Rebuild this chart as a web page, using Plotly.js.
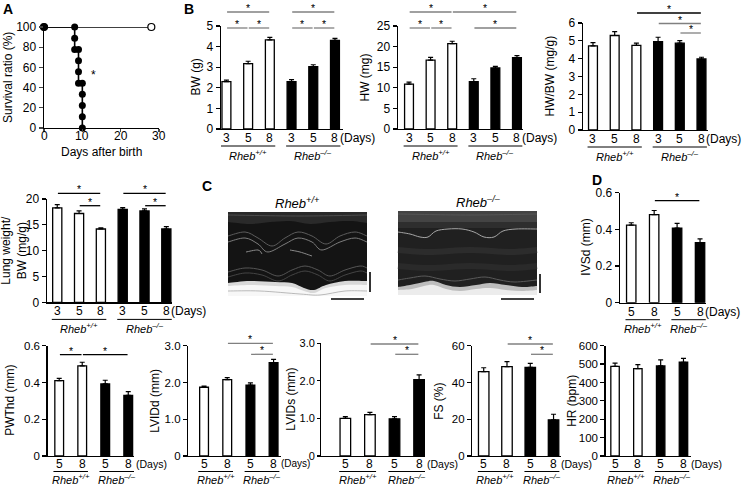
<!DOCTYPE html>
<html><head><meta charset="utf-8">
<script src="https://cdn.plot.ly/plotly-3.0.1.min.js"></script>
<style>html,body{margin:0;padding:0;background:#fff}#chart{width:745px;height:485px}</style>
</head><body><div id="chart"></div>
<script>
// ================= DATA =================
// Panel A: survival
const survDaysKO  = [0, 8, 8, 8, 9, 9, 9, 9, 10, 10, 10, 10, 10];
const survRatioKO = [100, 100, 88.9, 77.8, 77.8, 66.7, 55.6, 44.4, 44.4, 33.3, 22.2, 11.1, 0];
const survDaysWT  = [0, 28];
const survRatioWT = [100, 100];
const survXTicks  = [0, 10, 20, 30];

// Panel B / lung: day labels
const daysTop = ['3', '5', '8'];
const bwWT = [2.3, 3.17, 4.33],  bwWTerr = [0.07, 0.12, 0.12];
const bwKO = [2.3, 3.03, 4.3],   bwKOerr = [0.1, 0.09, 0.1];
const hwWT = [10.9, 16.7, 20.7], hwWTerr = [0.5, 0.7, 0.6];
const hwKO = [11.5, 14.8, 17.3], hwKOerr = [0.7, 0.4, 0.5];
const hwbwWT = [4.72, 5.3, 4.75], hwbwWTerr = [0.18, 0.22, 0.12];
const hwbwKO = [4.96, 4.87, 3.98], hwbwKOerr = [0.24, 0.14, 0.1];
const lungWT = [18.3, 17.2, 14.2], lungWTerr = [0.6, 0.5, 0.2];
const lungKO = [18.0, 17.7, 14.2], lungKOerr = [0.35, 0.4, 0.45];

// Panel C / D: echo days
const daysEcho = ['5', '8'];
const ivsdWT = [0.423, 0.48],  ivsdWTerr = [0.013, 0.023];
const ivsdKO = [0.407, 0.328], ivsdKOerr = [0.026, 0.02];
const pwthdWT = [0.41, 0.49],  pwthdWTerr = [0.012, 0.02];
const pwthdKO = [0.392, 0.33], pwthdKOerr = [0.02, 0.02];
const lviddWT = [1.87, 2.08],  lviddWTerr = [0.03, 0.05];
const lviddKO = [1.93, 2.54],  lviddKOerr = [0.06, 0.09];
const lvidsWT = [1.0, 1.1],    lvidsWTerr = [0.05, 0.06];
const lvidsKO = [0.99, 2.03],  lvidsKOerr = [0.06, 0.13];
const fsWT = [45.9, 48.6],     fsWTerr = [2.1, 2.7];
const fsKO = [48.2, 19.7],     fsKOerr = [2.2, 3.0];
const hrWT = [487, 475],       hrWTerr = [18, 22];
const hrKO = [490, 510],       hrKOerr = [33, 21];

// significance brackets: [fromBar, toBar, tier]
const bwSig    = [[0,1,0],[1,2,0],[0,2,1],[3,4,0],[4,5,0],[3,5,1]];
const hwSig    = [[0,1,0],[1,2,0],[3,5,0],[0,2,1],[2,5,1]];
const hwbwSig  = [[4,5,0],[3,5,1],[2,5,2]];
const lungSig  = [[1,2,0],[0,2,1],[4,5,0],[3,5,1]];
const ivsdSig  = [[1,3,0]];
const pwthdSig = [[0,1,0],[1,3,0]];
const lviddSig = [[2,3,0],[1,3,1]];
const lvidsSig = [[2,3,0],[1,3,1]];
const fsSig    = [[2,3,0],[1,3,1]];
const hrSig    = [];

const genoWT = '<i>Rheb<sup>+/+</sup></i>';
const genoKO = '<i>Rheb<sup>\u2013/\u2013</sup></i>';

// ================= LAYOUT =================
const W = 745, H = 485;
const fx = p => p / W;
const fy = p => 1 - p / H;
const FONT = '"Liberation Sans", Arial, sans-serif';
const GRAY = '#808080', BLK = '#000000';

const data = [];
const shapes = [];
const annotations = [];
const layout = {
  width: W, height: H, margin: {l: 0, r: 0, t: 0, b: 0},
  showlegend: false, paper_bgcolor: 'white', plot_bgcolor: 'rgba(0,0,0,0)',
  font: {family: FONT, size: 12, color: 'black'}, barmode: 'overlay',
  hovermode: false
};
function axisBase() {
  return {showline: true, linecolor: 'black', linewidth: 1.4, showgrid: false,
          zeroline: false, fixedrange: true, tickfont: {size: 12, color: 'black', family: FONT}};
}
function txt(x, y, text, opt) {
  annotations.push(Object.assign({xref: 'paper', yref: 'paper', x: fx(x), y: fy(y), text: text,
    showarrow: false, xanchor: 'center', yanchor: 'middle', font: {size: 12, family: FONT}}, opt || {}));
}
function line(x0, y0, x1, y1, w, c) {
  shapes.push({type: 'line', xref: 'paper', yref: 'paper', x0: fx(x0), y0: fy(y0), x1: fx(x1), y1: fy(y1),
    line: {color: c || 'black', width: w || 1.5}});
}

// ---- Panel A ----
layout.xaxis = Object.assign(axisBase(), {domain: [fx(44), fx(159)], range: [0, 30], anchor: 'y',
  ticks: 'outside', ticklen: 3, tickwidth: 1.2, tickvals: survXTicks, showticklabels: false});
layout.yaxis = Object.assign(axisBase(), {domain: [fy(128), fy(27)], range: [0, 100], anchor: 'x',
  ticks: 'outside', ticklen: 4, tickwidth: 1.2, dtick: 20, tick0: 0});
data.push({type: 'scatter', mode: 'lines+markers', x: survDaysWT, y: survRatioWT, xaxis: 'x', yaxis: 'y',
  line: {color: 'black', width: 1.3}, cliponaxis: false,
  marker: {size: 7, color: ['black', 'white'], line: {color: 'black', width: 1.2}}});
data.push({type: 'scatter', mode: 'lines+markers', x: survDaysKO, y: survRatioKO, xaxis: 'x', yaxis: 'y',
  line: {color: 'black', width: 1.6}, cliponaxis: false,
  marker: {size: 7, color: 'black'}});
survXTicks.forEach(v => annotations.push({xref: 'x', yref: 'paper', x: v, y: fy(136), text: String(v),
  showarrow: false, yanchor: 'middle', font: {size: 12, family: FONT}}));
annotations.push({xref: 'x', yref: 'y', x: 13, y: 52, text: '*', showarrow: false, font: {size: 12, color: 'black'}});
txt(7.5, 77.5, 'Survival ratio (%)', {textangle: -90});
txt(101.5, 152, 'Days after birth');

// ---- Bar panels ----
const panels = [
  {n: 2, wt: bwWT, wtErr: bwWTerr, ko: bwKO, koErr: bwKOerr, days: daysTop, sig: bwSig,
   xpx: [221, 343], ypx: [26, 129], xr: [-0.25, 5.37], yr: [0, 5], dtick: 1, bw: 0.41,
   title: 'BW (g)', tx: 195, tiers: [28, 12], sigCol: [GRAY, GRAY], row: 'top'},
  {n: 3, wt: hwWT, wtErr: hwWTerr, ko: hwKO, koErr: hwKOerr, days: daysTop, sig: hwSig,
   xpx: [398, 523], ypx: [26, 129], xr: [-0.51, 5.28], yr: [0, 25], dtick: 5, bw: 0.41,
   title: 'HW (mg)', tx: 364, tiers: [28, 12], sigCol: [GRAY, GRAY], row: 'top'},
  {n: 4, wt: hwbwWT, wtErr: hwbwWTerr, ko: hwbwKO, koErr: hwbwKOerr, days: daysTop, sig: hwbwSig,
   xpx: [583, 708], ypx: [23, 130], xr: [-0.46, 5.3], yr: [0, 6], dtick: 1, bw: 0.41,
   title: 'HW/BW (mg/g)', tx: 549, tiers: [33, 23.5, 13], sigCol: [GRAY, GRAY, BLK], row: 'top'},
  {n: 5, wt: lungWT, wtErr: lungWTerr, ko: lungKO, koErr: lungKOerr, days: daysTop, sig: lungSig,
   xpx: [47, 172], ypx: [199, 302.4], xr: [-0.47, 5.26], yr: [0, 20], dtick: 5, bw: 0.42,
   title: 'Lung weight/<br>BW (mg/g)', tx: 14, tiers: [205.7, 193.3], sigCol: [BLK, BLK], row: 'mid'},
  {n: 6, wt: ivsdWT, wtErr: ivsdWTerr, ko: ivsdKO, koErr: ivsdKOerr, days: daysEcho, sig: ivsdSig,
   xpx: [620, 706], ypx: [192.7, 302.7], xr: [-0.49, 3.26], yr: [0, 0.6], dtick: 0.2, bw: 0.41,
   title: 'IVSd (mm)', tx: 586, tiers: [200.7], sigCol: [BLK], row: 'mid'},
  {n: 7, wt: pwthdWT, wtErr: pwthdWTerr, ko: pwthdKO, koErr: pwthdKOerr, days: daysEcho, sig: pwthdSig,
   xpx: [47.7, 134], ypx: [345.7, 456], xr: [-0.5, 3.25], yr: [0, 0.6], dtick: 0.2, bw: 0.38,
   title: 'PWThd (mm)', tx: 10, tiers: [354.7], sigCol: [BLK], row: 'bot'},
  {n: 8, wt: lviddWT, wtErr: lviddWTerr, ko: lviddKO, koErr: lviddKOerr, days: daysEcho, sig: lviddSig,
   xpx: [188.3, 281], ypx: [345.7, 456], xr: [-0.68, 3.32], yr: [0, 3], dtick: 1, fmt1: true, bw: 0.38,
   title: 'LVIDd (mm)', tx: 155, tiers: [354.3, 343.3], sigCol: [GRAY, GRAY], row: 'bot', dsize: 10},
  {n: 9, wt: lvidsWT, wtErr: lvidsWTerr, ko: lvidsKO, koErr: lvidsKOerr, days: daysEcho, sig: lvidsSig,
   xpx: [321, 425], ypx: [343.3, 456], xr: [-0.99, 3.24], yr: [0, 3], dtick: 1, fmt1: true, bw: 0.43,
   title: 'LVIDs (mm)', tx: 291, tiers: [354.3, 344], sigCol: [GRAY, GRAY], row: 'bot', ticklen: 2.5, tsize: 11},
  {n: 10, wt: fsWT, wtErr: fsWTerr, ko: fsKO, koErr: fsKOerr, days: daysEcho, sig: fsSig,
   xpx: [472.3, 561], ypx: [345.7, 456], xr: [-0.49, 3.32], yr: [0, 60], dtick: 20, bw: 0.45,
   title: 'FS (%)', tx: 439, tiers: [354.3, 344], sigCol: [GRAY, GRAY], row: 'bot'},
  {n: 11, wt: hrWT, wtErr: hrWTerr, ko: hrKO, koErr: hrKOerr, days: daysEcho, sig: hrSig,
   xpx: [605.7, 691], ypx: [345.7, 456], xr: [-0.41, 3.33], yr: [0, 600], dtick: 100, bw: 0.37,
   title: 'HR (bpm)', tx: 572, tiers: [], sigCol: [], row: 'bot'}
];
const rowOff = {top: {tick: 9, ul: 17, geno: 26, dshift: 3, dsize: 12, tsize: 12},
                mid: {tick: 9, ul: 17, geno: 25.5, dshift: 3, dsize: 12, tsize: 12},
                bot: {tick: 7.5, ul: 15.5, geno: 22.5, dshift: 5.5, dsize: 10.5, tsize: 11.5}};

panels.forEach(p => {
  const xa = 'x' + p.n, ya = 'y' + p.n;
  const o = rowOff[p.row];
  const nW = p.wt.length;
  const xW = p.wt.map((_, i) => i), xK = p.ko.map((_, i) => i + nW);
  const allX = xW.concat(xK);
  const labels = p.days.concat(p.days);
  const yTicks = [];
  for (let v = p.yr[0]; v <= p.yr[1] + 1e-9; v += p.dtick) yTicks.push(+v.toFixed(6));
  layout['xaxis' + p.n] = Object.assign(axisBase(), {
    domain: [fx(p.xpx[0]), fx(p.xpx[1])], range: p.xr, anchor: ya, ticks: '', showticklabels: false});
  layout['yaxis' + p.n] = Object.assign(axisBase(), {
    domain: [fy(p.ypx[1]), fy(p.ypx[0])], range: p.yr, anchor: xa,
    ticks: 'outside', ticklen: p.ticklen || 4, tickwidth: 1.2, tickcolor: 'black',
    tickfont: {size: p.tsize || o.tsize, color: 'black', family: FONT},
    tickvals: yTicks, ticktext: yTicks.map(v => p.fmt1 ? (v === 0 ? '0' : v.toFixed(1)) : String(v))});
  data.push({type: 'bar', x: xW, y: p.wt, xaxis: xa, yaxis: ya, width: p.bw,
    marker: {color: 'white', line: {color: 'black', width: 1.3}},
    error_y: {type: 'data', symmetric: false, array: p.wtErr, arrayminus: p.wtErr.map(() => 0),
              color: 'black', thickness: 1.2, width: 2.5}});
  data.push({type: 'bar', x: xK, y: p.ko, xaxis: xa, yaxis: ya, width: p.bw,
    marker: {color: 'black', line: {color: 'black', width: 1.3}},
    error_y: {type: 'data', symmetric: false, array: p.koErr, arrayminus: p.koErr.map(() => 0),
              color: 'black', thickness: 1.2, width: 2.5}});
  // significance
  p.sig.forEach(([i, j, t]) => {
    const yp = p.tiers[t];
    shapes.push({type: 'line', xref: xa, yref: 'paper', x0: i + 0.03, x1: j - 0.03, y0: fy(yp), y1: fy(yp),
      line: {color: p.sigCol[t], width: 1.3}});
    annotations.push({xref: xa, yref: 'paper', x: (i + j) / 2, y: fy(yp), yshift: 4, text: '*',
      showarrow: false, yanchor: 'middle', font: {size: 10.5, color: 'black', family: FONT}});
  });
  const bot = p.ypx[1];
  // x tick labels
  allX.forEach((x, k) => annotations.push({xref: xa, yref: 'paper', x: x, y: fy(bot + o.tick),
    text: labels[k], showarrow: false, yanchor: 'middle', font: {size: 12, family: FONT}}));
  // genotype underline and labels
  [[xW, genoWT], [xK, genoKO]].forEach(([xs, g]) => {
    shapes.push({type: 'line', xref: xa, yref: 'paper', x0: xs[0] - 0.25, x1: xs[xs.length - 1] + 0.25,
      y0: fy(bot + o.ul), y1: fy(bot + o.ul), line: {color: 'black', width: 1}});
    annotations.push({xref: xa, yref: 'paper', x: (xs[0] + xs[xs.length - 1]) / 2, y: fy(bot + o.geno),
      text: g, showarrow: false, yanchor: 'middle', font: {size: 11, family: FONT}});
  });
  annotations.push({xref: xa, yref: 'paper', x: xK[xK.length - 1], xshift: o.dshift, y: fy(bot + o.tick),
    text: '(Days)', showarrow: false, xanchor: 'left', yanchor: 'middle',
    font: {size: p.dsize || o.dsize, family: FONT}});
  // y title
  txt(p.tx, (p.ypx[0] + p.ypx[1]) / 2, p.title, {textangle: -90});
});

// ---- Panel C: echo images (drawn as shapes) ----
function smooth(pts) {
  let d = 'M' + fx(pts[0][0]) + ',' + fy(pts[0][1]);
  for (let i = 0; i < pts.length - 1; i++) {
    const p0 = pts[Math.max(i - 1, 0)], p1 = pts[i], p2 = pts[i + 1], p3 = pts[Math.min(i + 2, pts.length - 1)];
    const c1 = [p1[0] + (p2[0] - p0[0]) / 6, p1[1] + (p2[1] - p0[1]) / 6];
    const c2 = [p2[0] - (p3[0] - p1[0]) / 6, p2[1] - (p3[1] - p1[1]) / 6];
    d += ' C' + fx(c1[0]) + ',' + fy(c1[1]) + ' ' + fx(c2[0]) + ',' + fy(c2[1]) + ' ' + fx(p2[0]) + ',' + fy(p2[1]);
  }
  return d;
}
function rect(x0, y0, x1, y1, fill) {
  shapes.push({type: 'rect', xref: 'paper', yref: 'paper', x0: fx(x0), x1: fx(x1), y0: fy(y1), y1: fy(y0),
    fillcolor: fill, line: {width: 0}, layer: 'below'});
}
function wave(pts, col, w) {
  shapes.push({type: 'path', xref: 'paper', yref: 'paper', path: smooth(pts), line: {color: col, width: w}, layer: 'below'});
}
function band(pts, x0, x1, ybot, fill) {
  const d = smooth(pts) + ' L' + fx(x1) + ',' + fy(ybot) + ' L' + fx(x0) + ',' + fy(ybot) + ' Z';
  shapes.push({type: 'path', xref: 'paper', yref: 'paper', path: d, fillcolor: fill, line: {width: 0}, layer: 'below'});
}
// left (Rheb+/+)
rect(228, 212, 367, 296, '#141414');
rect(228, 212, 367, 220, '#3a3a3a');
band([[228,222],[250,224],[270,222],[290,221],[310,224],[330,222],[350,221],[367,223]], 228, 367, 212, '#2a2a2a');
wave([[228,215],[300,216],[367,215]], '#555555', 0.8);
wave([[228,236],[245,232],[258,238],[272,246],[285,238],[298,232],[312,236],[326,244],[340,236],[355,232],[367,236]], '#5c5c5c', 1);
wave([[228,242],[245,238],[258,244],[268,252],[285,244],[298,238],[312,242],[322,250],[340,242],[355,238],[367,242]], '#7c7c7c', 1);
wave([[246,252],[258,250],[262,254]], '#8a8a8a', 1);
wave([[290,250],[300,252],[312,256]], '#8a8a8a', 1);
wave([[228,272],[245,268],[262,270],[278,276],[292,270],[305,266],[318,270],[330,276],[345,270],[360,266],[367,268]], '#555555', 1);
wave([[228,277],[245,273],[262,275],[278,281],[292,275],[305,271],[318,275],[330,281],[345,275],[360,271],[367,273]], '#444444', 1);
band([[228,283],[250,281],[275,282],[292,283],[304,288],[314,290],[326,285],[345,281],[367,281]], 228, 367, 296, '#d8d8d8');
band([[228,286],[250,285],[275,286],[292,287],[304,291],[314,293],[326,288],[345,285],[367,285]], 228, 367, 296, '#f7f7f7');
wave([[228,291],[260,291],[300,294],[320,295],[345,291],[367,291]], '#aaaaaa', 0.8);
// right (Rheb-/-)
rect(398, 211, 537, 295, '#202020');
rect(398, 211, 537, 222, '#444444');
rect(398, 222, 537, 228, '#2e2e2e');
wave([[398,214],[470,215],[537,214]], '#5a5a5a', 0.8);
wave([[398,232],[410,234],[420,237],[428,237],[436,231],[448,229],[462,229],[474,232],[484,237],[494,237],[503,231],[516,229],[537,229]], '#a5a5a5', 1);
wave([[398,250],[430,252],[470,250],[510,252],[537,250]], '#2c2c2c', 6);
wave([[398,266],[430,268],[470,266],[510,268],[537,266]], '#2a2a2a', 6);
wave([[398,280],[410,278],[425,276],[440,279],[455,281],[470,279],[485,277],[500,280],[515,282],[537,280]], '#5a5a5a', 1);
band([[398,287],[410,285],[424,282],[434,281],[446,285],[460,287],[476,285],[490,283],[506,285],[522,287],[537,286]], 398, 537, 295, '#bdbdbd');
band([[398,290],[412,289],[424,286],[434,285],[446,289],[460,291],[476,289],[490,288],[506,290],[522,291],[537,290]], 398, 537, 295, '#ececec');
// scale bars
line(370, 272, 370, 292, 1.6);
line(331, 299, 364, 299, 1.6);
line(540, 274, 540, 293, 1.6);
line(501, 299, 534, 299, 1.6);
txt(297, 203, genoWT, {font: {size: 13, family: FONT}});
txt(478, 202, genoKO, {font: {size: 13, family: FONT}});

// panel letters
const bold = {font: {size: 14, family: FONT}};
txt(8, 9, '<b>A</b>', bold);
txt(189, 9, '<b>B</b>', bold);
txt(207, 186, '<b>C</b>', bold);
txt(597, 180, '<b>D</b>', bold);

layout.shapes = shapes;
layout.annotations = annotations;
Plotly.newPlot('chart', data, layout, {staticPlot: true, displayModeBar: false});
</script>
</body></html>
